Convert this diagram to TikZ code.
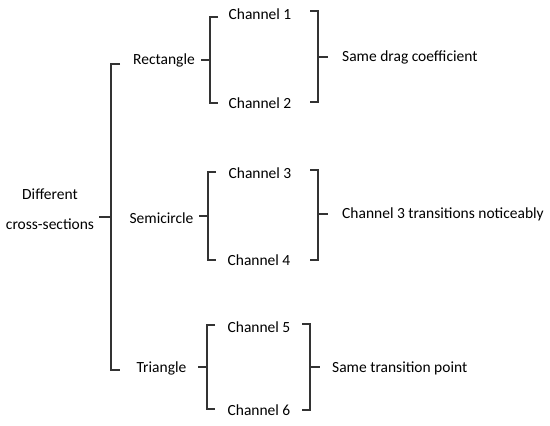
\documentclass[tikz,border=0pt]{standalone}
\usepackage{fontspec}
\setmainfont{Carlito}
\begin{document}
\begin{tikzpicture}[x=1pt,y=-1pt,
  lbl/.style={inner sep=0pt,text=black,font=\fontsize{15.5}{30}\selectfont},
  brk/.style={draw=black!80,line width=1.1pt}]
\useasboundingbox (0,0) rectangle (550,426);
% texts
\node[lbl,align=center] (root) at (50,209) {Different\\cross-sections};
\node[lbl] (rect) at (164,60) {Rectangle};
\node[lbl] (semi) at (161.5,218) {Semicircle};
\node[lbl] (tri) at (161.5,368) {Triangle};
\node[lbl] (c1) at (260,14) {Channel 1};
\node[lbl] (c2) at (260,103) {Channel 2};
\node[lbl] (c3) at (260,173) {Channel 3};
\node[lbl] (c4) at (259,260) {Channel 4};
\node[lbl] (c5) at (259,327) {Channel 5};
\node[lbl] (c6) at (259,410) {Channel 6};
\node[lbl,anchor=west] (r1) at (342,57) {Same drag coefficient};
\node[lbl,anchor=west] (r2) at (342,214) {Channel 3 transitions noticeably};
\node[lbl,anchor=west] (r3) at (332,368) {Same transition point};
% main bracket
\coordinate (m) at (111,217);
\draw[brk] (120,64) -- (111,64) -- (111,370) -- (120,370);
\draw[brk] (99,217) -- (m);
% left brackets
\draw[brk] (218,17) -- (210,17) -- (210,103) -- (218,103);
\draw[brk] (201,60) -- (210,60);
\draw[brk] (216,172) -- (208,172) -- (208,260) -- (216,260);
\draw[brk] (199,216) -- (208,216);
\draw[brk] (215,325) -- (207,325) -- (207,409) -- (215,409);
\draw[brk] (198,367) -- (207,367);
% right brackets
\draw[brk] (310,11) -- (318,11) -- (318,102) -- (310,102);
\draw[brk] (318,57) -- (328,57);
\draw[brk] (310,170) -- (318,170) -- (318,260) -- (310,260);
\draw[brk] (318,214) -- (328,214);
\draw[brk] (302,324) -- (310,324) -- (310,410) -- (302,410);
\draw[brk] (310,367) -- (320,367);
\end{tikzpicture}
\end{document}
